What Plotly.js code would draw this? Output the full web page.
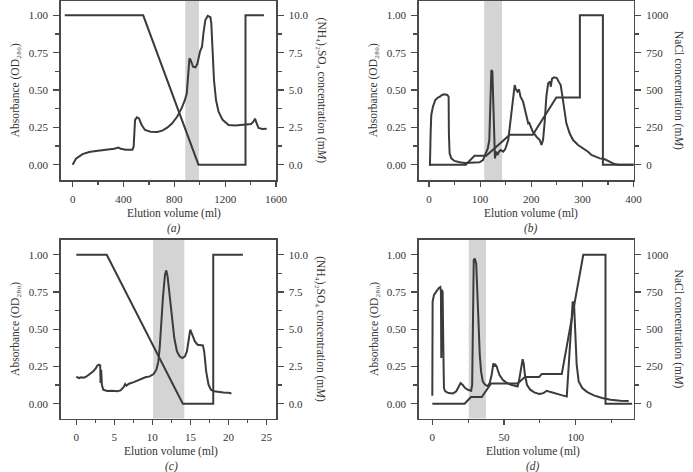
<!DOCTYPE html>
<html>
<head>
<meta charset="utf-8">
<script src="https://cdn.plot.ly/plotly-3.0.1.min.js"></script>
<style>html,body{margin:0;padding:0;background:#fff;}#chart{width:693px;height:472px;}</style>
</head>
<body>
<div id="chart"></div>
<script>
// ---- Panel (a): elution volume (ml), absorbance, (NH4)2SO4 (mM)
var aAbsX = [0,26,78,130,183,235,287,326,360,378,418,470,480,491,506,522,543,569,613,666,705,744,783,822,856,882,898,908,919,929,947,966,981,1002,1018,1029,1044,1063,1084,1091,1101,1112,1128,1148,1180,1227,1279,1344,1404,1422,1435,1446,1462,1493,1527];
var aAbsY = [0,0.04,0.071,0.085,0.092,0.096,0.103,0.107,0.114,0.107,0.10,0.10,0.12,0.30,0.317,0.31,0.266,0.232,0.221,0.219,0.228,0.248,0.277,0.321,0.375,0.43,0.478,0.567,0.712,0.70,0.656,0.652,0.674,0.757,0.79,0.88,0.969,0.996,0.987,0.946,0.768,0.567,0.433,0.355,0.30,0.266,0.263,0.268,0.272,0.288,0.308,0.281,0.246,0.239,0.241];
var aSaltX = [-62,555,990,1360,1360,1505];
var aSaltY = [10,10,0,0,10,10];
var aShade = [886,993];

// ---- Panel (b): NaCl (mM)
var bAbsX = [0,2,3.3,4.6,7.8,12.4,17.6,21.5,25.4,30.6,35.9,38.5,39,40.4,43.7,50,60,70,79.5,89,99,105.6,111,115,118,120,122,124,126,128,129,131,134,137,140,145,149,155,160,164,167.6,170,173,176,179,184,188,194,196,199,203,210,216.5,220,223,226,229.5,233,237,238,240.6,244.5,250,253.6,257.5,260,264,268.6,275,281.7,291.4,301,311,317.5,324,334,343.6,353,363,370,402];
var bAbsY = [0,0,0.21,0.333,0.388,0.433,0.449,0.455,0.467,0.471,0.467,0.455,0.21,0.076,0.042,0.025,0.016,0.011,0.013,0.013,0.016,0.031,0.071,0.109,0.165,0.366,0.634,0.623,0.388,0.12,0.042,0.087,0.065,0.087,0.098,0.087,0.103,0.165,0.321,0.433,0.533,0.504,0.489,0.504,0.455,0.422,0.366,0.277,0.28,0.259,0.221,0.1875,0.165,0.132,0.165,0.277,0.455,0.545,0.556,0.522,0.576,0.585,0.58,0.556,0.533,0.478,0.366,0.277,0.21,0.165,0.132,0.109,0.087,0.065,0.054,0.042,0.036,0.02,0.004,0,0];
var bSaltX = [0,72,89,112,158,203,249,295,295,340,340,402];
var bSaltY = [0,0,60,60,200,200,450,450,1000,1000,0,0];
var bShade = [108,143];

// ---- Panel (c)
var cAbsX = [0,0.35,0.66,1.0,1.35,1.79,2.23,2.58,2.75,2.97,3.14,3.19,3.27,3.36,3.54,4.06,4.72,5.37,5.81,6.24,6.42,6.59,6.94,7.55,8.43,9.08,9.65,10.17,10.52,10.79,10.96,11.14,11.4,11.66,11.83,12.0,12.27,12.58,12.88,13.23,13.58,13.93,14.28,14.54,14.8,14.98,15.24,15.59,15.94,16.29,16.64,16.81,17.07,17.38,17.69,18.12,18.69,19.34,20.0,20.4];
var cAbsY = [0.181,0.172,0.177,0.175,0.183,0.199,0.217,0.239,0.255,0.262,0.257,0.139,0.228,0.128,0.094,0.085,0.087,0.083,0.089,0.112,0.132,0.121,0.134,0.145,0.163,0.177,0.183,0.199,0.228,0.284,0.374,0.553,0.72,0.866,0.895,0.855,0.732,0.575,0.441,0.351,0.318,0.306,0.318,0.351,0.441,0.497,0.463,0.418,0.396,0.391,0.391,0.351,0.217,0.128,0.094,0.083,0.078,0.076,0.074,0.069];
var cSaltX = [0,4,14,18,18,21.9];
var cSaltY = [10,10,0,0,10,10];
var cShade = [10.1,14.2];

// ---- Panel (d)
var dAbsX = [0,0.2,1.16,2.8,4.4,5.6,6.0,6.25,6.7,7.2,7.6,8.1,9.0,11.3,14.4,16.7,18.3,19.7,21.1,22.9,25.2,27.1,27.8,28.5,28.9,29.6,30.6,31.3,32.2,33.1,34,35.2,36.8,38.7,40.0,41.4,42.6,43.3,44,44.9,45.6,46.8,49.1,51.4,54.9,57.6,59.5,60.6,61.8,63,63.7,64.6,66,68.3,71.1,74.5,77.5,79.9,82.6,87.3,90.7,93.8,94.7,96.1,97.2,97.9,98.4,98.8,99.5,100.7,102.1,104.6,108.1,112.7,118.5,124.3,131.2,137];
var dAbsY = [0.054,0.685,0.73,0.757,0.775,0.783,0.752,0.306,0.763,0.752,0.44,0.105,0.083,0.071,0.069,0.083,0.112,0.138,0.127,0.105,0.092,0.087,0.127,0.886,0.964,0.975,0.942,0.775,0.484,0.328,0.217,0.15,0.127,0.118,0.138,0.194,0.272,0.25,0.261,0.25,0.228,0.194,0.161,0.143,0.127,0.121,0.116,0.161,0.239,0.299,0.272,0.194,0.127,0.094,0.076,0.065,0.071,0.087,0.078,0.063,0.056,0.049,0.172,0.395,0.574,0.685,0.674,0.685,0.529,0.261,0.15,0.105,0.078,0.056,0.038,0.027,0.02,0.018];
var dSaltX = [0,22.5,27,34.5,41,59.5,64.6,74.5,76.4,90.3,105.3,120.8,120.8,139.4];
var dSaltY = [0,0,45,45,136,136,179,179,200,200,1000,1000,0,0];
var dShade = [25.4,37.4];

// ---- text
var xTitle = "Elution volume (ml)";
var absTitle = "Absorbance (OD\u2082\u2088\u2080)";
var amsTitle = "(NH\u2084)\u2082SO\u2084 concentration (m<i>M</i>)";
var naclTitle = "NaCl concentration (m<i>M</i>)";
var captions = ["(a)","(b)","(c)","(d)"];

var W = 693, H = 472;
var FONT = "Liberation Serif, Times New Roman, serif";
var LINE = "#3b3b3b";
var FRAME = "#4a4a4a";
var TXT = "#333333";

var panels = [
  {absX:aAbsX, absY:aAbsY, saltX:aSaltX, saltY:aSaltY, shade:aShade, xr:[-94,1600], xd:400, xm:200,
   rr:[-1.04,10.96], rd:2.5, rm:1.25, rf:".1f", yr:[-0.104,1.096], px:[60.7,276], py:[1,180.2], rt:amsTitle, x0:0, xmax:1600},
  {absX:bAbsX, absY:bAbsY, saltX:bSaltX, saltY:bSaltY, shade:bShade, xr:[-20,400], xd:100, xm:50,
   rr:[-104,1096], rd:250, rm:125, rf:"d", yr:[-0.104,1.096], px:[418.7,633.6], py:[1,180.2], rt:naclTitle, x0:0, xmax:400},
  {absX:cAbsX, absY:cAbsY, saltX:cSaltX, saltY:cSaltY, shade:cShade, xr:[-2.05,26.25], xd:5, xm:2.5,
   rr:[-1,11], rd:2.5, rm:1.25, rf:".1f", yr:[-0.1,1.1], px:[60.7,276], py:[239.8,418.6], rt:amsTitle, x0:0, xmax:25},
  {absX:dAbsX, absY:dAbsY, saltX:dSaltX, saltY:dSaltY, shade:dShade, xr:[-9.5,140.4], xd:50, xm:25,
   rr:[-100,1100], rd:250, rm:125, rf:"d", yr:[-0.1,1.1], px:[418.7,633.6], py:[239.8,418.6], rt:naclTitle, x0:0, xmax:140}
];

var data = [];
var layout = {
  width: W, height: H,
  margin: {l:0, r:0, t:0, b:0, pad:0},
  paper_bgcolor: "#ffffff", plot_bgcolor: "#ffffff",
  showlegend: false,
  font: {family: FONT, size: 11, color: TXT},
  shapes: [], annotations: []
};

panels.forEach(function(p, i){
  var n = i + 1;
  var xa = "x" + (n === 1 ? "" : n), ya = "y" + (n === 1 ? "" : n), yr = "y" + (n + 4);
  var xk = "xaxis" + (n === 1 ? "" : n), yk = "yaxis" + (n === 1 ? "" : n), rk = "yaxis" + (n + 4);
  var dx = [p.px[0] / W, p.px[1] / W];
  var dy = [1 - p.py[1] / H, 1 - p.py[0] / H];
  var tickfont = {family: FONT, size: 11, color: TXT};

  layout[xk] = {domain: dx, range: p.xr, anchor: ya, showgrid: false, zeroline: false,
    showline: true, mirror: true, linecolor: FRAME, linewidth: 1.5,
    ticks: "outside", ticklen: 5, tickwidth: 1.2, tickcolor: FRAME, tick0: 0, dtick: p.xd,
    minor: {ticks: "outside", ticklen: 3, tickwidth: 1.2, tickcolor: FRAME, tick0: 0, dtick: p.xm},
    tickfont: tickfont, ticklabelstandoff: 3};
  layout[yk] = {domain: dy, range: p.yr, anchor: xa, showgrid: false, zeroline: false,
    showline: true, mirror: true, linecolor: FRAME, linewidth: 1.5,
    ticks: "outside", ticklen: 6, tickwidth: 1.2, tickcolor: FRAME, tick0: 0, dtick: 0.25, tickformat: ".2f",
    minor: {ticks: "outside", ticklen: 4, tickwidth: 1.2, tickcolor: FRAME, tick0: 0, dtick: 0.125},
    tickfont: tickfont, ticklabelstandoff: 3};
  layout[rk] = {overlaying: ya, side: "right", anchor: xa, range: p.rr, showgrid: false, zeroline: false,
    showline: true, linecolor: FRAME, linewidth: 1.5,
    ticks: "outside", ticklen: 6, tickwidth: 1.2, tickcolor: FRAME, tick0: 0, dtick: p.rd, tickformat: p.rf,
    minor: {ticks: "outside", ticklen: 4, tickwidth: 1.2, tickcolor: FRAME, tick0: 0, dtick: p.rm},
    tickfont: tickfont, ticklabelstandoff: 3};

  layout.shapes.push({type: "rect", xref: xa, yref: ya + " domain", x0: p.shade[0], x1: p.shade[1], y0: 0, y1: 1,
    fillcolor: "rgb(212,212,212)", line: {width: 0}, layer: "below"});

  data.push({type: "scatter", mode: "lines", x: p.saltX, y: p.saltY, xaxis: xa, yaxis: yr,
    line: {color: LINE, width: 2}, hoverinfo: "skip"});
  data.push({type: "scatter", mode: "lines", x: p.absX, y: p.absY, xaxis: xa, yaxis: ya,
    line: {color: LINE, width: 2}, hoverinfo: "skip"});

  var cy = (p.py[0] + p.py[1]) / 2;
  var titleFont = {family: FONT, size: 11.5, color: TXT};
  layout.annotations.push({xref: "paper", yref: "paper", x: (p.px[0] - 45) / W, y: 1 - cy / H,
    text: absTitle, textangle: -90, showarrow: false, xanchor: "center", yanchor: "middle", font: titleFont});
  layout.annotations.push({xref: "paper", yref: "paper", x: (p.px[1] + 45) / W, y: 1 - cy / H,
    text: p.rt, textangle: 90, showarrow: false, xanchor: "center", yanchor: "middle", font: titleFont});
  var s = (p.px[1] - p.px[0]) / (p.xr[1] - p.xr[0]);
  var xc = p.px[0] + ((p.x0 + p.xmax) / 2 - p.xr[0]) * s;
  layout.annotations.push({xref: "paper", yref: "paper", x: xc / W, y: 1 - (p.py[1] + 33) / H,
    text: xTitle, showarrow: false, xanchor: "center", yanchor: "middle", font: titleFont});
  layout.annotations.push({xref: "paper", yref: "paper", x: xc / W, y: 1 - (p.py[1] + 48) / H,
    text: captions[i], showarrow: false, xanchor: "center", yanchor: "middle",
    font: {family: FONT, size: 11.5, color: TXT, style: "italic"}});
});

Plotly.newPlot("chart", data, layout, {staticPlot: true, displayModeBar: false});
</script>
</body>
</html>
